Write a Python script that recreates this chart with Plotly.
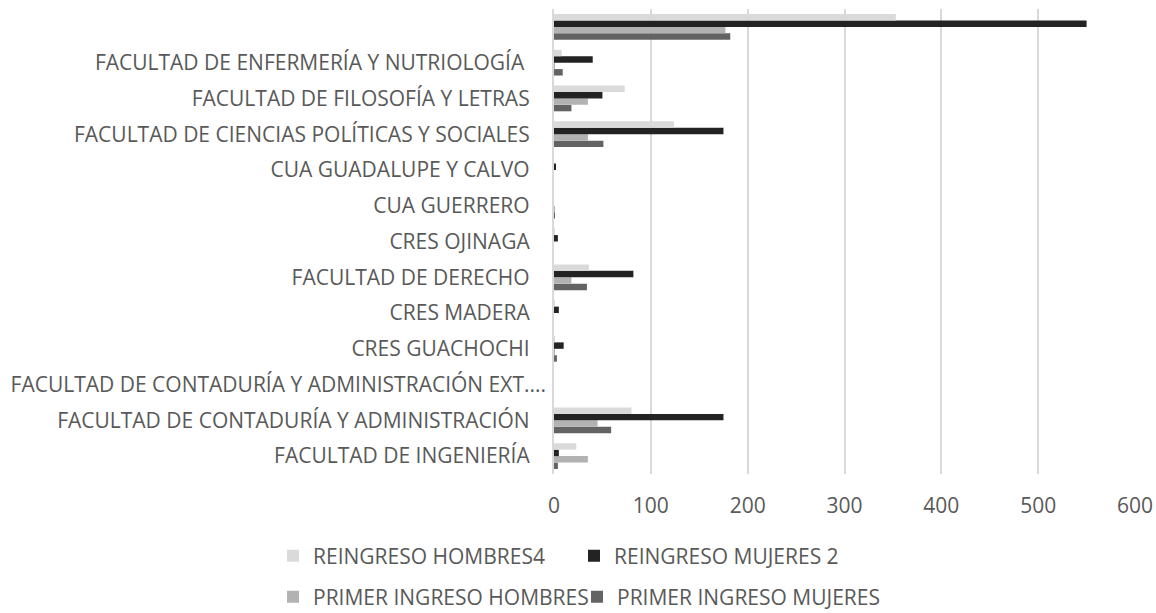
import plotly.graph_objects as go

categories = [
    "FACULTAD DE INGENIERÍA",
    "FACULTAD DE CONTADURÍA Y ADMINISTRACIÓN",
    "FACULTAD DE CONTADURÍA Y ADMINISTRACIÓN EXT....",
    "CRES GUACHOCHI",
    "CRES MADERA",
    "FACULTAD DE DERECHO",
    "CRES OJINAGA",
    "CUA GUERRERO",
    "CUA GUADALUPE Y CALVO",
    "FACULTAD DE CIENCIAS POLÍTICAS Y SOCIALES",
    "FACULTAD DE FILOSOFÍA Y LETRAS",
    "FACULTAD DE ENFERMERÍA Y NUTRIOLOGÍA ",
    "\u00a0",
]

reingreso_hombres4 = [23, 80, 0, 1, 1, 36, 1, 0, 0, 124, 73, 8, 353]
reingreso_mujeres2 = [5, 175, 0, 10, 5, 82, 4, 0, 2, 175, 50, 40, 550]
primer_ingreso_hombres = [35, 45, 0, 1, 0, 18, 0, 1, 0, 35, 35, 1, 177]
primer_ingreso_mujeres = [4, 59, 0, 3, 0, 34, 0, 1, 0, 51, 18, 9, 182]

x_ticks = [0, 100, 200, 300, 400, 500, 600]

FONT = "Open Sans"
TXT = "#595959"
FS = 21

# tick text: Excel leaves a wider gap for full labels than for the truncated one
tick_text = [c if c.endswith("....") else c + "\u00a0" * 3 for c in categories]

series = [
    ("PRIMER INGRESO MUJERES", primer_ingreso_mujeres, "#636363", "legend4"),
    ("PRIMER INGRESO HOMBRES", primer_ingreso_hombres, "#b2b2b2", "legend3"),
    ("REINGRESO MUJERES 2", reingreso_mujeres2, "#232323", "legend2"),
    ("REINGRESO HOMBRES4", reingreso_hombres4, "#dadada", "legend"),
]

fig = go.Figure()
for name, vals, col, leg in series:
    fig.add_trace(go.Bar(
        y=categories, x=vals, name=name, orientation="h",
        marker=dict(color=col, line=dict(width=0)),
        legend=leg,
    ))


def leg_box(xpx, ypx):
    return dict(
        orientation="h", xref="container", yref="container",
        x=xpx / 1156, y=1 - ypx / 613, xanchor="left", yanchor="middle",
        itemwidth=30, font=dict(size=FS, color=TXT),
        bgcolor="rgba(0,0,0,0)", borderwidth=0,
    )


fig.update_layout(
    width=1156, height=613,
    paper_bgcolor="white", plot_bgcolor="white",
    margin=dict(l=554, r=21, t=9, b=139, autoexpand=False),
    barmode="group", bargap=0.28, bargroupgap=0,
    font=dict(family=FONT, size=FS, color=TXT),
    xaxis=dict(
        range=[0, 600], tickvals=x_ticks, showgrid=True,
        gridcolor="#d9d9d9", gridwidth=1.5, zeroline=False,
        showline=False, ticks="", tickfont=dict(size=FS, color=TXT),
        ticklabelstandoff=17, automargin=False,
    ),
    yaxis=dict(
        categoryorder="array", categoryarray=categories,
        tickvals=categories, ticktext=tick_text,
        showgrid=False, showline=True, linecolor="#d9d9d9", linewidth=1.5,
        ticks="", ticklabelstandoff=2, tickfont=dict(size=FS, color=TXT),
        automargin=False,
    ),
    legend=leg_box(273, 556),
    legend2=leg_box(574, 556),
    legend3=leg_box(273, 597),
    legend4=leg_box(577, 597),
    showlegend=True,
)

fig.write_html(
    "out.html",
    config={"displayModeBar": False},
    post_script="document.body.style.margin='0';document.body.style.padding='0';",
)
